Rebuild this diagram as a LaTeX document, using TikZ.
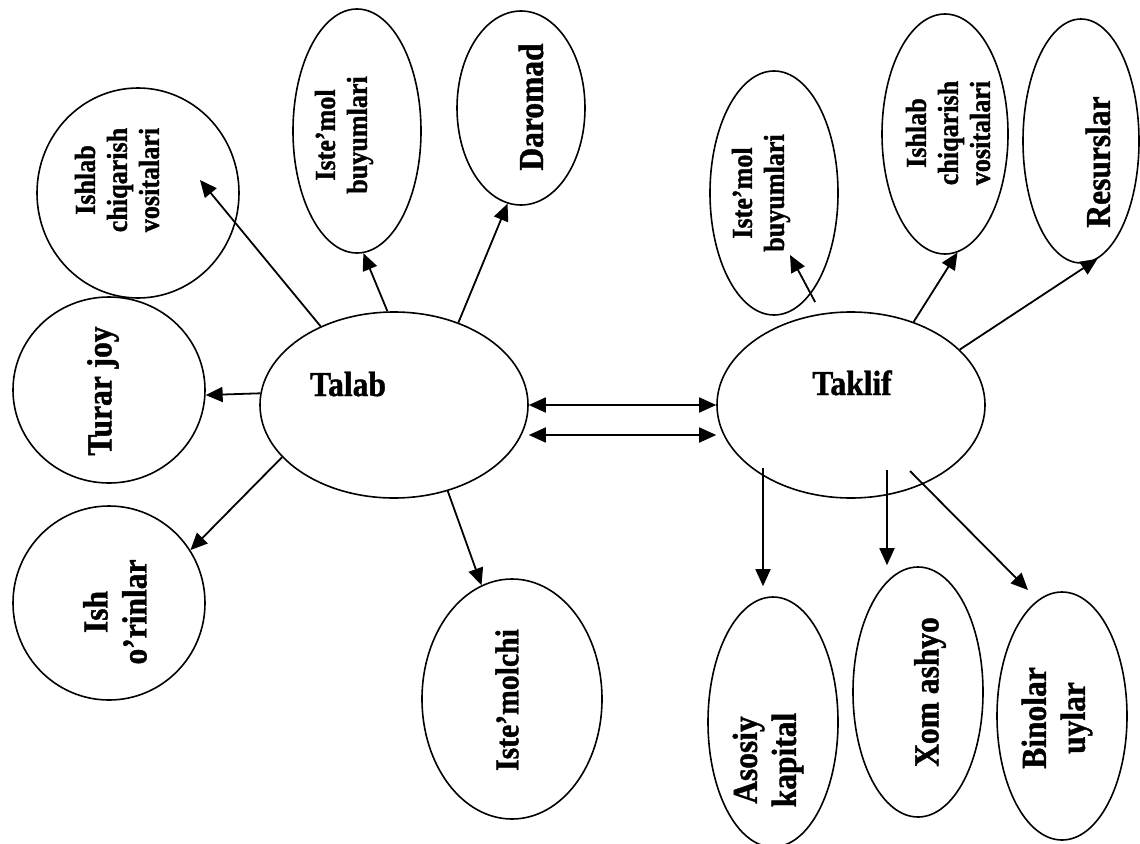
\documentclass[tikz,border=0pt]{standalone}
\usepackage{fontspec}
\setmainfont{Liberation Serif}[FakeStretch=0.9, BoldFeatures={FakeBold=1.2}]
\usetikzlibrary{shapes.geometric, arrows.meta, calc}

\begin{document}
\begin{tikzpicture}[x=1pt, y=-1pt,
    oval/.style={draw, ellipse, line width=1.6pt, inner sep=0pt},
    lbl/.style={rotate=90, align=center, font=\bfseries\fontsize{35}{39}\selectfont},
    lblsm/.style={rotate=90, align=center, font=\bfseries\fontsize{29}{32}\selectfont},
    link/.style={line width=1.8pt},
    >={Triangle[length=17pt, width=15pt]}]
    \useasboundingbox (0,0) rectangle (1140,843);

    % the two centres
    \node [oval, minimum width=268pt, minimum height=186pt] (talab) at (394,405) {};
    \node [font=\bfseries\fontsize{35}{39}\selectfont, anchor=base] (talabtxt) at (348,396) {Talab};
    \node [oval, minimum width=268pt, minimum height=186pt] (taklif) at (851,405) {};
    \node [font=\bfseries\fontsize{35}{39}\selectfont, anchor=base] (takliftxt) at (852,395) {Taklif};

    % Talab side
    \node [oval, minimum width=202pt, minimum height=210pt] (vositaA) at (138,193) {};
    \node [lblsm] (vositaAtxt) at (117,180) {Ishlab\\chiqarish\\vositalari};
    \node [oval, minimum width=192pt, minimum height=186pt] (turar) at (109,390) {};
    \node [lbl] (turartxt) at (103,391) {Turar joy};
    \node [oval, minimum width=192pt, minimum height=194pt] (ish) at (109,603) {};
    \node [lbl] (ishtxt) at (115,612) {Ish\\o’rinlar};
    \node [oval, minimum width=128pt, minimum height=244pt] (buyumA) at (357,131) {};
    \node [lblsm] (buyumAtxt) at (344,135) {Iste’mol\\buyumlari};
    \node [oval, minimum width=128pt, minimum height=194pt] (daromad) at (521,108) {};
    \node [lbl] (daromadtxt) at (531,107) {Daromad};
    \node [oval, minimum width=180pt, minimum height=240pt] (istemolchi) at (512,699) {};
    \node [lbl, font=\bfseries\fontsize{33}{37}\selectfont] (istemolchitxt) at (507,700) {Iste’molchi};

    % Taklif side
    \node [oval, minimum width=128pt, minimum height=244pt] (buyumB) at (774,193) {};
    \node [lblsm] (buyumBtxt) at (761,193) {Iste’mol\\buyumlari};
    \node [oval, minimum width=126pt, minimum height=240pt] (vositaB) at (945,134) {};
    \node [lblsm] (vositaBtxt) at (948,133) {Ishlab\\chiqarish\\vositalari};
    \node [oval, minimum width=116pt, minimum height=244pt] (resurs) at (1081,141) {};
    \node [lbl] (resurstxt) at (1098,162) {Resurslar};
    \node [oval, minimum width=130pt, minimum height=250pt] (kapital) at (773,722) {};
    \node [lbl] (kapitaltxt) at (768,760) {Asosiy\\kapital};
    \node [oval, minimum width=130pt, minimum height=250pt] (xom) at (918,692) {};
    \node [lbl] (xomtxt) at (930,692) {Xom ashyo};
    \node [oval, minimum width=130pt, minimum height=248pt] (bino) at (1062,716) {};
    \node [lbl] (binotxt) at (1057,718) {Binolar\\uylar};

    \draw [link, ->] (talab.133) -- ($(vositaA.center)+(62,-13)$);
    \draw [link, ->] (talab.94) -- (buyumA.-87);
    \draw [link, ->] (talab.52) -- (daromad.-98);
    \draw [link, ->] (talab.175) -- (turar.-3);
    \draw [link, ->] (talab.205) -- (ish.33);
    \draw [link, ->] (talab.-58) -- (istemolchi.105);

    \draw [link, <->] (talab.east) -- (taklif.west);
    \draw [link, <->] ([yshift=-30pt]talab.east) -- ([yshift=-30pt]taklif.west);

    \draw [link, ->, shorten <=13pt] (taklif.108) -- ($(buyumB.center)+(16,62)$);
    \draw [link, ->] (taklif.53) -- (vositaB.-84);
    \draw [link, ->] (taklif.27) -- (resurs.-82);
    \draw [link, ->, shorten >=10pt] ($(taklif.center)+(-88,63)$) -- ($(kapital.north)+(-10,0)$);
    \draw [link, ->] ($(taklif.center)+(36,65)$) -- ($(xom.north)+(-31,-1)$);
    \draw [link, ->] ($(taklif.center)+(59,66)$) -- ($(bino.center)+(-34,-126)$);
\end{tikzpicture}
\end{document}
